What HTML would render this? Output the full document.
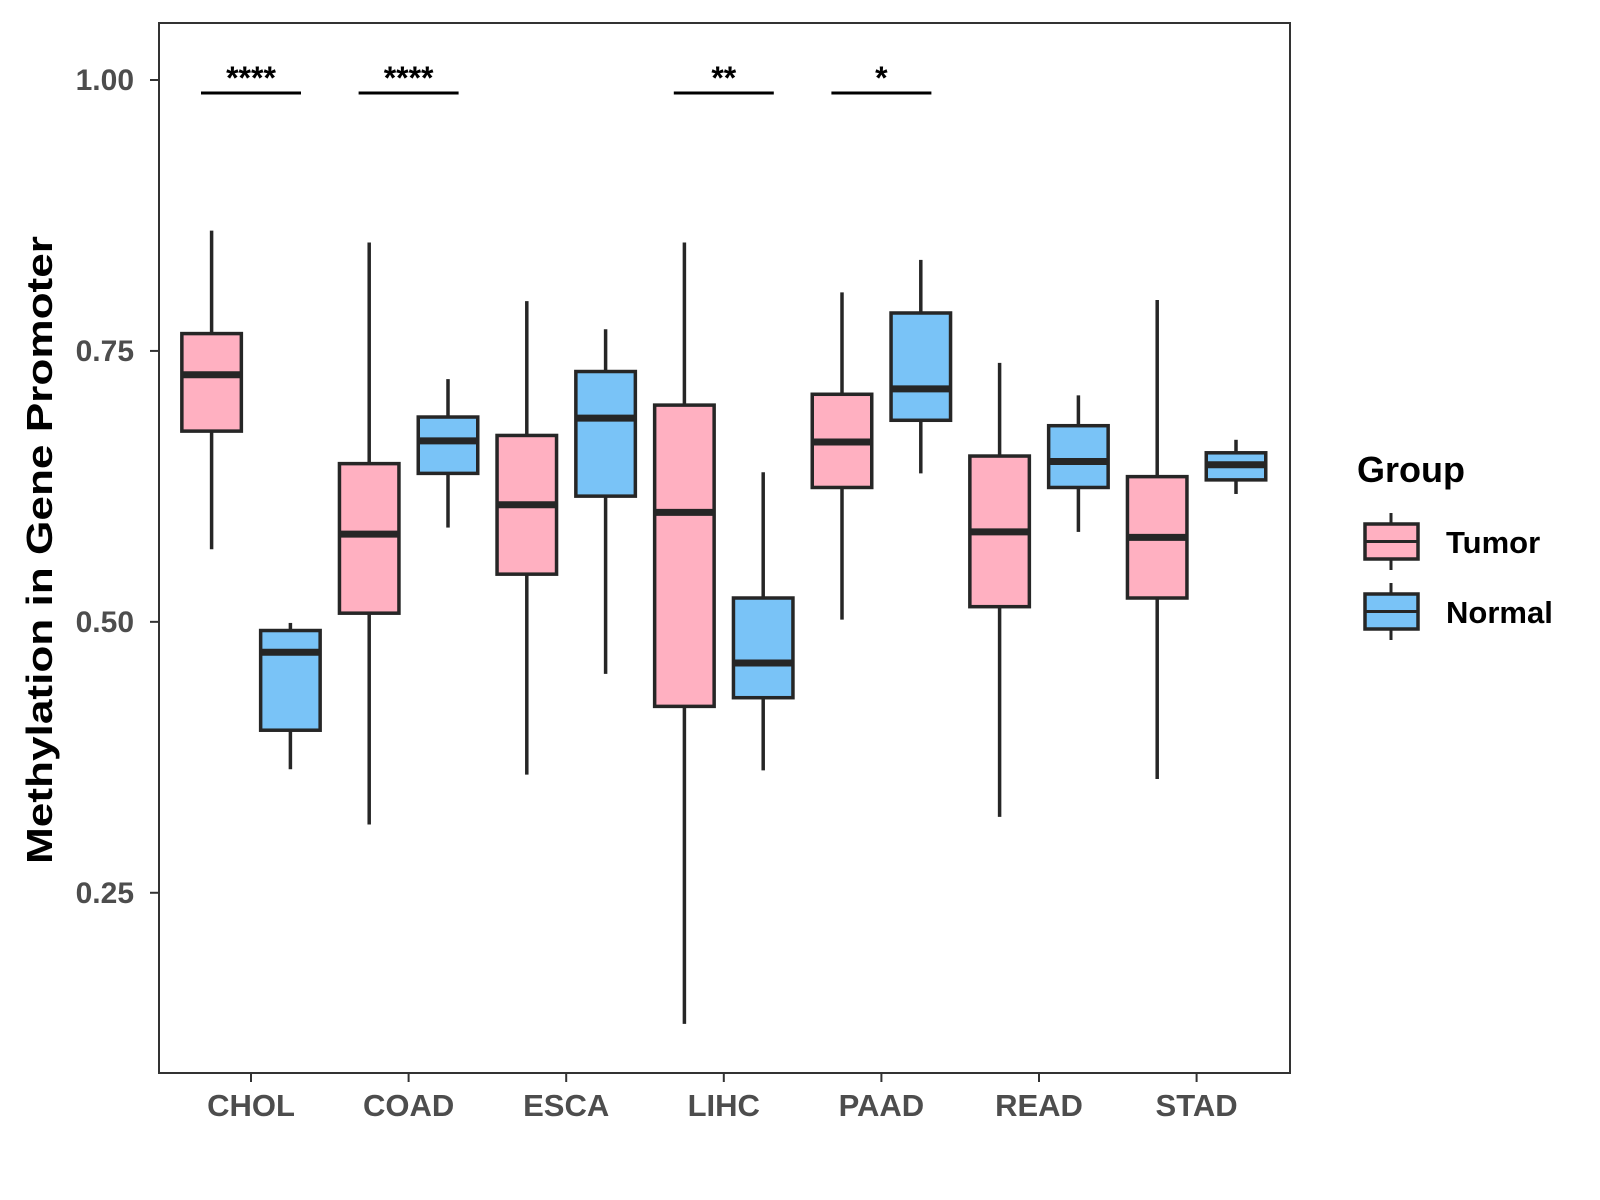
<!DOCTYPE html>
<html><head><meta charset="utf-8"><style>
html,body{margin:0;padding:0;background:#fff;}
svg{display:block;font-family:"Liberation Sans",Arial,sans-serif;}
</style></head><body>
<svg id="chart" width="1600" height="1200" viewBox="0 0 1600 1200">
<rect x="0" y="0" width="1600" height="1200" fill="#fff"/>
<g id="plot"></g>
<text transform="translate(52,550) rotate(-90)" text-anchor="middle" font-size="36" font-weight="bold" fill="#000" textLength="628" lengthAdjust="spacingAndGlyphs">Methylation in Gene Promoter</text>
<g transform="translate(-7,-3)">
<text x="1364" y="485" font-size="36" font-weight="bold" fill="#000">Group</text>
<g>
<line x1="1398" y1="516" x2="1398" y2="573" stroke="#262626" stroke-width="3"/>
<rect x="1372" y="527" width="53" height="35" fill="#FFB0C1" stroke="#262626" stroke-width="3.5"/>
<line x1="1372" y1="544.5" x2="1425" y2="544.5" stroke="#262626" stroke-width="3"/>
<text x="1453" y="556" font-size="31" font-weight="bold" fill="#000">Tumor</text>
</g>
<g>
<line x1="1398" y1="586" x2="1398" y2="643" stroke="#262626" stroke-width="3"/>
<rect x="1372" y="597" width="53" height="35" fill="#79C3F7" stroke="#262626" stroke-width="3.5"/>
<line x1="1372" y1="614.5" x2="1425" y2="614.5" stroke="#262626" stroke-width="3"/>
<text x="1453" y="626" font-size="31" font-weight="bold" fill="#000">Normal</text>
</g>
</g>
</svg>
<script>
const categories = ["CHOL","COAD","ESCA","LIHC","PAAD","READ","STAD"];
// [lower whisker, Q1, median, Q3, upper whisker]
const tumorStats = [
 [0.567,0.676,0.728,0.766,0.861],
 [0.313,0.508,0.581,0.646,0.850],
 [0.359,0.544,0.608,0.672,0.796],
 [0.129,0.422,0.601,0.700,0.850],
 [0.502,0.624,0.666,0.710,0.804],
 [0.320,0.514,0.583,0.653,0.739],
 [0.355,0.522,0.578,0.634,0.797]
];
const normalStats = [
 [0.364,0.400,0.472,0.492,0.499],
 [0.587,0.637,0.667,0.689,0.724],
 [0.452,0.616,0.688,0.731,0.770],
 [0.363,0.430,0.462,0.522,0.638],
 [0.637,0.686,0.715,0.785,0.834],
 [0.583,0.624,0.648,0.681,0.709],
 [0.618,0.631,0.645,0.656,0.668]
];
const yTicks = [0.25,0.50,0.75,1.00];
const yTickLabels = ["0.25","0.50","0.75","1.00"];
const sigCategories = ["CHOL","COAD","LIHC","PAAD"];
const sigLabels = ["****","****","**","*"];
const sigLevel = 0.988;

const PL=159, PR=1290, PT=23, PB=1073;
const y = v => 80 + (1 - v) * 1083.7;
const x = i => 251.0 + i * 157.6;
const NS="http://www.w3.org/2000/svg";
const plot=document.getElementById('plot');
function mk(tag, attrs, parent){const e=document.createElementNS(NS,tag);for(const k in attrs)e.setAttribute(k,attrs[k]);(parent||plot).appendChild(e);return e;}

const panel=mk('rect',{x:PL,y:PT,width:PR-PL,height:PB-PT,fill:'none',stroke:'#333',"stroke-width":2});



yTicks.forEach((t,i)=>{
  const g=mk('g',{});
  
  
  mk('line',{x1:PL-9,x2:PL,y1:y(t),y2:y(t),stroke:'#333',"stroke-width":2},g);
  const tx=mk('text',{x:PL-25,y:y(t)+10,"text-anchor":"end","font-size":30,"font-weight":"bold",fill:'#4d4d4d'},g);
  tx.textContent=yTickLabels[i];
});
categories.forEach((c,i)=>{
  const g=mk('g',{});
  
  
  mk('line',{x1:x(i),x2:x(i),y1:PB,y2:PB+9,stroke:'#333',"stroke-width":2},g);
  const tx=mk('text',{x:x(i),y:1116,"text-anchor":"middle","font-size":31,"font-weight":"bold",fill:'#4d4d4d'},g);
  tx.textContent=c;
});

const BW=59.5, OFF=39.4;
function box(stats, cx, fill, name){
  const g=mk('g',{});
  
  
  const [lo,q1,md,q3,hi]=stats;
  mk('line',{x1:cx,x2:cx,y1:y(hi),y2:y(q3),stroke:'#262626',"stroke-width":3.5},g);
  mk('line',{x1:cx,x2:cx,y1:y(q1),y2:y(lo),stroke:'#262626',"stroke-width":3.5},g);
  mk('rect',{x:cx-BW/2,y:y(q3),width:BW,height:y(q1)-y(q3),fill:fill,stroke:'#262626',"stroke-width":3.5},g);
  mk('line',{x1:cx-BW/2,x2:cx+BW/2,y1:y(md),y2:y(md),stroke:'#262626',"stroke-width":7},g);
}
categories.forEach((c,i)=>{
  box(tumorStats[i], x(i)-OFF, '#FFB0C1', 'box-tumor-'+c.toLowerCase());
  box(normalStats[i], x(i)+OFF, '#79C3F7', 'box-normal-'+c.toLowerCase());
});
sigCategories.forEach((c,k)=>{
  const i=categories.indexOf(c);
  const g=mk('g',{});
  
  
  mk('line',{x1:x(i)-50,x2:x(i)+50,y1:y(sigLevel),y2:y(sigLevel),stroke:'#000',"stroke-width":3},g);
  const t=mk('text',{x:x(i),y:y(sigLevel)-4,"text-anchor":"middle","font-size":32,"font-weight":"bold",fill:'#000'},g);
  t.textContent=sigLabels[k];
});
</script>
</body></html>
